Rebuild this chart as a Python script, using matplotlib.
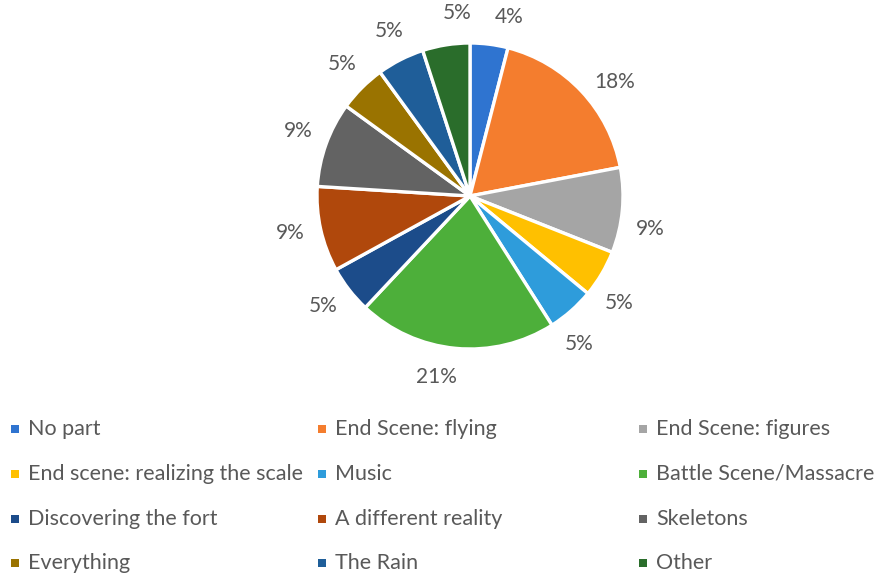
import matplotlib
matplotlib.use("Agg")
import numpy as np
import matplotlib.pyplot as plt
from matplotlib.patches import Rectangle

categories = [
    "No part", "End Scene: flying", "End Scene: figures",
    "End scene: realizing the scale", "Music", "Battle Scene/Massacre",
    "Discovering the fort", "A different reality", "Skeletons",
    "Everything", "The Rain", "Other",
]
shares = [4, 18, 9, 5, 5, 21, 5, 9, 9, 5, 5, 5]
colors = [
    "#2F74D0", "#F47D2E", "#A5A5A5", "#FFC000", "#2E9CDB", "#4DAF3A",
    "#1C4C8A", "#B0480C", "#636363", "#9A7300", "#1F5E99", "#2A6D2B",
]

plt.rcParams["font.family"] = ["Lato", "DejaVu Sans"]
text_color = "#595959"

W, H = 878, 576
fig = plt.figure(figsize=(W / 100, H / 100), dpi=100)
fig.patch.set_facecolor("white")

# pie axes: centre (470, 196) px, radius ~153 px
cx, cy, r = 470, 196, 153
ax = fig.add_axes([(cx - r) / W, 1 - (cy + r) / H, 2 * r / W, 2 * r / H])
wedges, _ = ax.pie(
    shares,
    colors=colors,
    startangle=90,
    counterclock=False,
    wedgeprops=dict(edgecolor="white", linewidth=2.4),
)

# percentage labels set just outside each wedge; on the right half and the
# top they are nudged clockwise, on the left half they stay near the middle
for w, v in zip(wedges, shares):
    mid_deg = ((w.theta1 + w.theta2) / 2) % 360
    shift = -1.0 if 100 < mid_deg < 250 else -5.0
    mid = np.deg2rad(mid_deg + shift)
    ax.text(1.2 * np.cos(mid), 1.2 * np.sin(mid), f"{v}%",
            ha="center", va="center", fontsize=15, color=text_color)

ax.set_aspect("equal")
ax.set_xlim(-1, 1)
ax.set_ylim(-1, 1)

# legend grid, row-major order
col_x = [15, 322, 643]
row_y = [429, 474, 519, 563]
sq = 8
for i, (name, col) in enumerate(zip(categories, colors)):
    x = col_x[i % 3]
    y = row_y[i // 3]
    fig.patches.append(Rectangle(((x - sq / 2) / W, 1 - (y + sq / 2) / H), sq / W, sq / H,
                                 transform=fig.transFigure, facecolor=col, edgecolor="none"))
    fig.text((x + 13) / W, 1 - y / H, name, ha="left", va="center",
             fontsize=15.5, color=text_color)

fig.savefig("out.png", dpi=100, facecolor="white")
